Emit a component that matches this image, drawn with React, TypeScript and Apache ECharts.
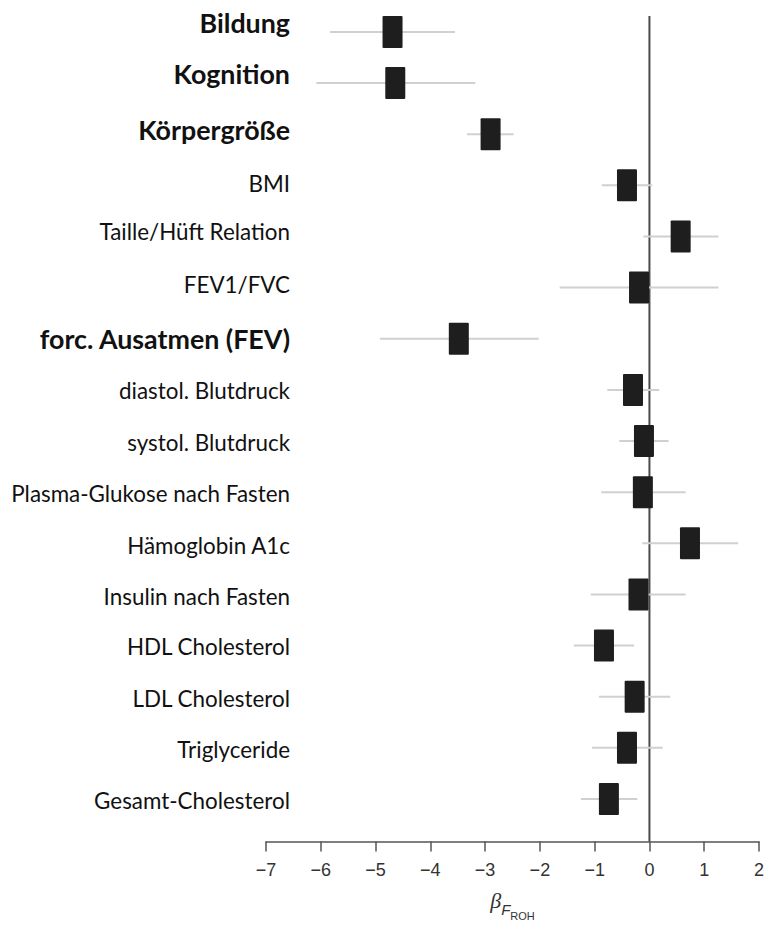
import React, { useEffect, useRef } from "react";
import * as echarts from "echarts";

const categories = [
  "Bildung",
  "Kognition",
  "Körpergröße",
  "BMI",
  "Taille/Hüft Relation",
  "FEV1/FVC",
  "forc. Ausatmen (FEV)",
  "diastol. Blutdruck",
  "systol. Blutdruck",
  "Plasma-Glukose nach Fasten",
  "Hämoglobin A1c",
  "Insulin nach Fasten",
  "HDL Cholesterol",
  "LDL Cholesterol",
  "Triglyceride",
  "Gesamt-Cholesterol",
];
const boldCategories = ["Bildung", "Kognition", "Körpergröße", "forc. Ausatmen (FEV)"];
const estimates = [-4.69, -4.64, -2.9, -0.41, 0.57, -0.19, -3.48, -0.3, -0.1, -0.12, 0.74, -0.2, -0.83, -0.27, -0.41, -0.74];
const lower = [-5.83, -6.08, -3.33, -0.87, -0.11, -1.64, -4.92, -0.77, -0.55, -0.88, -0.13, -1.07, -1.38, -0.92, -1.05, -1.25];
const upper = [-3.55, -3.18, -2.48, 0.05, 1.26, 1.26, -2.02, 0.18, 0.35, 0.66, 1.62, 0.66, -0.28, 0.38, 0.24, -0.22];
const xMin = -7;
const xMax = 2;
const xInterval = 1;
const referenceValue = 0;

export default function App() {
  const ref = useRef<HTMLDivElement>(null);
  useEffect(() => {
    if (!ref.current) return;
    const chart = echarts.init(ref.current, null, { renderer: "svg" });
    const forestData = categories.map((c, i) => [estimates[i], lower[i], upper[i], i]);

    // small vertical nudges of the row labels (the source's labels are hand-placed)
    const labelDy = [-9, -9, -4, -2, -4.5, -3, 0.5, 1, 1, 1, 2, 2, 1, 1.5, 2, 2];
    const rich: any = {};
    categories.forEach((c, i) => {
      const dy = labelDy[i] || 0;
      const pad = dy >= 0 ? [2 * dy, 0, 0, 0] : [0, 0, -2 * dy, 0];
      const bold = boldCategories.includes(c);
      rich["l" + i] = {
        fontFamily: "Lato",
        fontWeight: bold ? "bold" : "normal",
        fontSize: bold ? 26.8 : 22.4,
        color: "#111",
        padding: pad,
      };
    });

    const option: any = {
      animation: false,
      backgroundColor: "#ffffff",
      grid: { left: 266, right: 5, top: 6.4, bottom: 95.1, containLabel: false },
      xAxis: {
        type: "value",
        min: xMin,
        max: xMax,
        interval: xInterval,
        offset: 17,
        axisLine: { show: true, lineStyle: { color: "#555", width: 1.5 } },
        axisTick: { show: true, length: 10, lineStyle: { color: "#555", width: 1.5 } },
        splitLine: { show: false },
        axisLabel: {
          margin: 19,
          color: "#333",
          fontFamily: "Liberation Sans",
          fontSize: 18,
          formatter: (v: number) => String(v).replace("-", "\u2212"),
        },
        name: "{b|β}{f|F}{r|ROH}",
        nameLocation: "middle",
        nameGap: 48,
        nameTextStyle: {
          rich: {
            b: { fontFamily: "Liberation Serif", fontStyle: "italic", fontSize: 22, color: "#333", verticalAlign: "top" },
            f: { fontFamily: "Liberation Sans", fontStyle: "italic", fontSize: 15, color: "#333", verticalAlign: "top", padding: [12.5, 0, 0, 0] },
            r: { fontFamily: "Liberation Sans", fontSize: 11, color: "#333", verticalAlign: "top", padding: [20.5, 0, 0, 0] },
          },
        },
      },
      yAxis: {
        type: "category",
        inverse: true,
        data: categories,
        axisLine: { show: false },
        axisTick: { show: false },
        splitLine: { show: false },
        axisLabel: {
          margin: -24,
          formatter: (v: string, i: number) => `{l${i}|${v}}`,
          rich,
        },
      },
      series: [
        {
          type: "custom",
          name: "reference",
          data: [[referenceValue, 0]],
          encode: { x: 0, y: 1 },
          clip: false,
          silent: true,
          z: 1,
          renderItem: (params: any, api: any) => {
            const p = api.coord([api.value(0), 0]);
            const cs = params.coordSys;
            return {
              type: "line",
              shape: { x1: p[0], y1: cs.y + 9.6, x2: p[0], y2: cs.y + cs.height + 17 },
              style: { stroke: "#4a4a4a", lineWidth: 2 },
            };
          },
        },
        {
          type: "custom",
          name: "forest",
          data: forestData,
          encode: { x: [0, 1, 2], y: 3 },
          z: 2,
          renderItem: (params: any, api: any) => {
            const yi = api.value(3);
            const est = api.coord([api.value(0), yi]);
            const lo = api.coord([api.value(1), yi]);
            const hi = api.coord([api.value(2), yi]);
            return {
              type: "group",
              children: [
                {
                  type: "line",
                  shape: { x1: lo[0], y1: lo[1], x2: hi[0], y2: hi[1] },
                  style: { stroke: "#d0d0d0", lineWidth: 2 },
                },
                {
                  type: "rect",
                  shape: { x: est[0] - 10, y: est[1] - 16, width: 20, height: 32, r: 1 },
                  style: { fill: "#1e1e1e" },
                },
              ],
            };
          },
        },
      ],
    };
    chart.setOption(option);
    return () => chart.dispose();
  }, []);
  return (
    <div
      ref={ref}
      style={{ position: "fixed", left: 0, top: 0, width: 767, height: 926, background: "#fff" }}
    />
  );
}
